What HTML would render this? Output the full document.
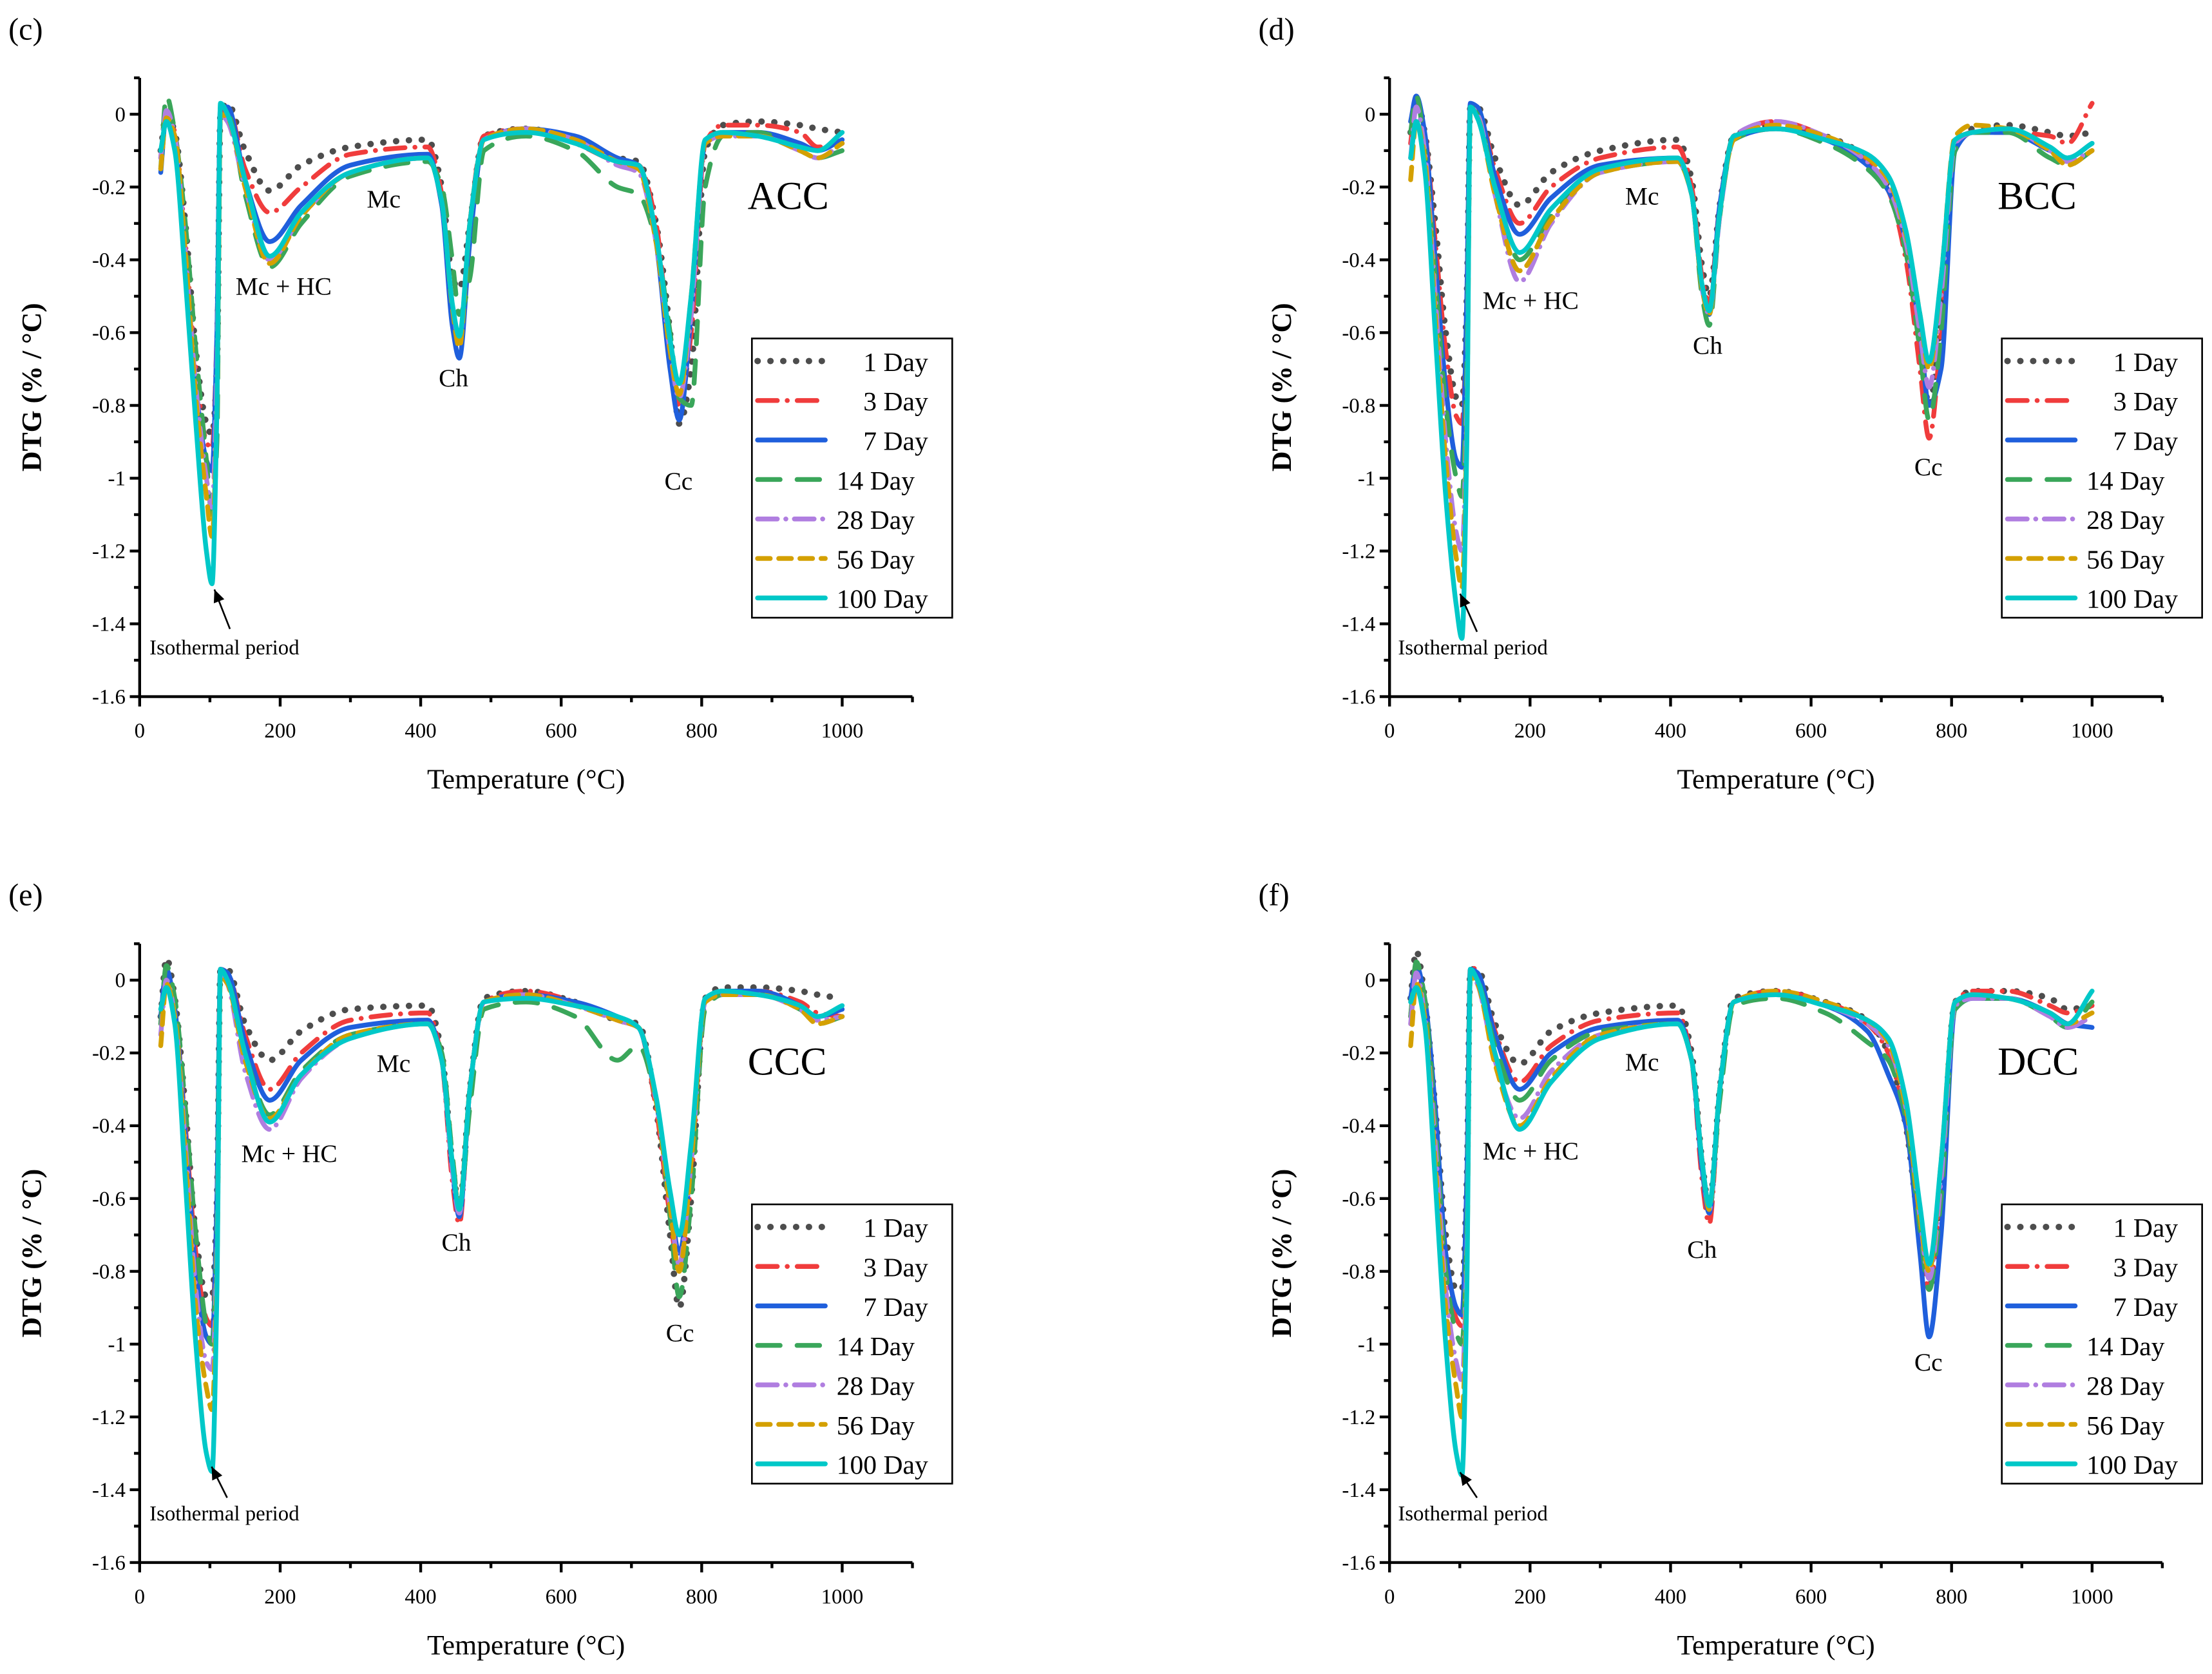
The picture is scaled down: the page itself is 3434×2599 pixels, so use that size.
<!DOCTYPE html>
<html><head><meta charset="utf-8"><style>
html,body{margin:0;padding:0;background:#fff;}
svg{display:block;font-family:"Liberation Serif",serif;}
</style></head>
<body>
<svg id="fig" xmlns="http://www.w3.org/2000/svg" width="3434" height="2599" viewBox="0 0 1568 1187" preserveAspectRatio="none"></svg>
<script>
const temps=[30,38,50,65,80,95,103,110,115,125,150,185,230,300,410,430,445,455,470,490,550,620,680,710,735,755,768,785,805,830,880,940,965,1000];
const seriesNames=["1 Day","3 Day","7 Day","14 Day","28 Day","56 Day","100 Day"];
const xTicks=[0,200,400,600,800,1000];
const yTicks=[0,-0.2,-0.4,-0.6,-0.8,-1,-1.2,-1.4,-1.6];
const yTickLabels=["0","-0.2","-0.4","-0.6","-0.8","-1","-1.2","-1.4","-1.6"];
const panelC=[
[-0.1,0.0,-0.05,-0.3,-0.65,-0.85,-0.88,-0.7,0.0,0.03,-0.1,-0.21,-0.14,-0.09,-0.07,-0.2,-0.45,-0.48,-0.3,-0.06,-0.04,-0.07,-0.12,-0.13,-0.3,-0.6,-0.85,-0.7,-0.1,-0.03,-0.02,-0.03,-0.04,-0.05],
[-0.12,0.01,-0.05,-0.35,-0.7,-0.9,-0.92,-0.6,0.0,0.02,-0.15,-0.27,-0.2,-0.11,-0.09,-0.22,-0.55,-0.62,-0.3,-0.06,-0.04,-0.08,-0.13,-0.14,-0.3,-0.65,-0.8,-0.6,-0.08,-0.03,-0.03,-0.05,-0.09,-0.08],
[-0.16,0.0,-0.08,-0.4,-0.75,-0.95,-0.98,-0.6,0.02,0.02,-0.18,-0.35,-0.25,-0.14,-0.11,-0.25,-0.58,-0.67,-0.35,-0.07,-0.04,-0.06,-0.12,-0.14,-0.35,-0.7,-0.84,-0.55,-0.08,-0.05,-0.05,-0.08,-0.1,-0.07],
[-0.15,0.05,-0.05,-0.3,-0.65,-0.95,-1.1,-0.9,0.0,0.0,-0.22,-0.42,-0.3,-0.17,-0.13,-0.2,-0.4,-0.55,-0.45,-0.1,-0.06,-0.1,-0.2,-0.22,-0.35,-0.6,-0.78,-0.8,-0.2,-0.06,-0.05,-0.1,-0.12,-0.1],
[-0.12,0.01,-0.06,-0.38,-0.75,-1.0,-1.08,-0.7,0.0,-0.02,-0.2,-0.4,-0.28,-0.16,-0.12,-0.24,-0.52,-0.62,-0.3,-0.07,-0.04,-0.07,-0.14,-0.16,-0.35,-0.65,-0.78,-0.55,-0.08,-0.06,-0.06,-0.1,-0.12,-0.08],
[-0.15,-0.01,-0.06,-0.38,-0.78,-1.05,-1.16,-0.8,0.0,-0.01,-0.2,-0.41,-0.28,-0.16,-0.12,-0.24,-0.53,-0.64,-0.3,-0.07,-0.04,-0.07,-0.13,-0.15,-0.35,-0.65,-0.77,-0.5,-0.08,-0.06,-0.06,-0.1,-0.12,-0.08],
[-0.1,-0.02,-0.1,-0.45,-0.85,-1.2,-1.29,-0.8,0.03,0.0,-0.18,-0.39,-0.27,-0.16,-0.12,-0.24,-0.52,-0.61,-0.3,-0.07,-0.05,-0.08,-0.13,-0.14,-0.33,-0.62,-0.74,-0.5,-0.07,-0.05,-0.06,-0.09,-0.1,-0.05]];
const panelD=[
[-0.05,0.04,-0.05,-0.3,-0.6,-0.78,-0.8,-0.5,0.02,0.02,-0.12,-0.25,-0.16,-0.1,-0.07,-0.18,-0.42,-0.5,-0.25,-0.06,-0.03,-0.06,-0.12,-0.2,-0.35,-0.62,-0.8,-0.55,-0.08,-0.04,-0.03,-0.05,-0.06,-0.05],
[-0.08,0.03,-0.05,-0.35,-0.65,-0.83,-0.85,-0.55,0.01,0.01,-0.15,-0.3,-0.2,-0.12,-0.09,-0.2,-0.45,-0.52,-0.25,-0.06,-0.02,-0.06,-0.13,-0.21,-0.4,-0.7,-0.89,-0.6,-0.08,-0.05,-0.05,-0.06,-0.08,0.03],
[-0.02,0.05,-0.05,-0.4,-0.75,-0.95,-0.97,-0.5,0.03,0.02,-0.17,-0.33,-0.23,-0.14,-0.12,-0.22,-0.48,-0.55,-0.25,-0.07,-0.04,-0.07,-0.14,-0.21,-0.35,-0.6,-0.8,-0.7,-0.1,-0.05,-0.05,-0.1,-0.12,-0.08],
[-0.05,0.05,-0.1,-0.45,-0.8,-1.0,-1.05,-0.7,0.02,0.0,-0.2,-0.4,-0.28,-0.16,-0.13,-0.22,-0.5,-0.58,-0.28,-0.07,-0.04,-0.08,-0.15,-0.22,-0.38,-0.65,-0.84,-0.6,-0.1,-0.05,-0.05,-0.12,-0.14,-0.1],
[-0.12,0.02,-0.1,-0.5,-0.9,-1.15,-1.2,-0.8,0.02,0.0,-0.22,-0.46,-0.3,-0.16,-0.13,-0.22,-0.48,-0.55,-0.28,-0.06,-0.02,-0.06,-0.13,-0.2,-0.35,-0.6,-0.75,-0.5,-0.08,-0.05,-0.04,-0.1,-0.13,-0.1],
[-0.18,-0.02,-0.12,-0.55,-0.95,-1.22,-1.3,-0.85,0.01,-0.01,-0.22,-0.43,-0.29,-0.16,-0.13,-0.22,-0.48,-0.55,-0.27,-0.07,-0.03,-0.06,-0.12,-0.18,-0.33,-0.55,-0.7,-0.45,-0.06,-0.03,-0.04,-0.1,-0.14,-0.1],
[-0.12,-0.02,-0.15,-0.6,-1.05,-1.35,-1.44,-0.9,0.02,-0.01,-0.2,-0.38,-0.26,-0.15,-0.12,-0.22,-0.47,-0.54,-0.27,-0.06,-0.04,-0.07,-0.11,-0.17,-0.32,-0.55,-0.68,-0.45,-0.07,-0.05,-0.04,-0.09,-0.12,-0.08]];
const panelE=[
[-0.1,0.06,-0.05,-0.35,-0.7,-0.87,-0.87,-0.6,0.03,0.03,-0.12,-0.22,-0.14,-0.08,-0.07,-0.2,-0.5,-0.62,-0.3,-0.05,-0.03,-0.06,-0.11,-0.12,-0.35,-0.7,-0.9,-0.6,-0.05,-0.02,-0.02,-0.03,-0.04,-0.05],
[-0.12,0.02,-0.08,-0.4,-0.75,-0.93,-0.95,-0.6,0.03,0.02,-0.15,-0.3,-0.2,-0.11,-0.09,-0.22,-0.55,-0.67,-0.3,-0.06,-0.03,-0.06,-0.11,-0.13,-0.35,-0.65,-0.8,-0.55,-0.06,-0.03,-0.03,-0.06,-0.09,-0.1],
[-0.1,0.03,-0.08,-0.42,-0.8,-0.98,-1.0,-0.6,0.03,0.02,-0.17,-0.33,-0.22,-0.13,-0.11,-0.22,-0.52,-0.65,-0.3,-0.06,-0.04,-0.06,-0.1,-0.13,-0.33,-0.6,-0.75,-0.5,-0.06,-0.03,-0.03,-0.07,-0.1,-0.08],
[-0.12,0.04,-0.05,-0.35,-0.7,-0.95,-1.0,-0.7,0.02,0.0,-0.2,-0.37,-0.25,-0.15,-0.12,-0.2,-0.48,-0.62,-0.35,-0.08,-0.06,-0.1,-0.22,-0.18,-0.33,-0.65,-0.87,-0.6,-0.08,-0.04,-0.04,-0.08,-0.12,-0.1],
[-0.15,0.0,-0.1,-0.45,-0.85,-1.05,-1.07,-0.75,0.02,-0.01,-0.25,-0.41,-0.27,-0.16,-0.12,-0.22,-0.52,-0.64,-0.3,-0.06,-0.04,-0.07,-0.11,-0.13,-0.33,-0.62,-0.78,-0.5,-0.06,-0.04,-0.04,-0.08,-0.11,-0.1],
[-0.18,-0.01,-0.1,-0.48,-0.9,-1.12,-1.18,-0.8,0.01,-0.01,-0.22,-0.38,-0.26,-0.15,-0.12,-0.22,-0.5,-0.62,-0.3,-0.06,-0.04,-0.07,-0.11,-0.13,-0.33,-0.62,-0.8,-0.5,-0.06,-0.04,-0.04,-0.08,-0.12,-0.1],
[-0.08,-0.02,-0.12,-0.55,-1.0,-1.3,-1.35,-0.85,0.03,0.0,-0.2,-0.39,-0.26,-0.16,-0.12,-0.22,-0.5,-0.63,-0.3,-0.06,-0.05,-0.07,-0.1,-0.13,-0.32,-0.58,-0.7,-0.45,-0.05,-0.03,-0.04,-0.07,-0.1,-0.07]];
const panelF=[
[-0.05,0.08,-0.05,-0.35,-0.7,-0.85,-0.85,-0.55,0.03,0.03,-0.12,-0.23,-0.14,-0.09,-0.07,-0.2,-0.5,-0.62,-0.3,-0.05,-0.03,-0.06,-0.11,-0.2,-0.4,-0.7,-0.85,-0.55,-0.06,-0.03,-0.03,-0.05,-0.08,-0.07],
[-0.1,0.04,-0.08,-0.4,-0.75,-0.93,-0.95,-0.6,0.04,0.02,-0.14,-0.28,-0.18,-0.11,-0.09,-0.22,-0.55,-0.67,-0.3,-0.06,-0.03,-0.06,-0.12,-0.2,-0.4,-0.7,-0.85,-0.55,-0.06,-0.03,-0.03,-0.07,-0.09,-0.07],
[-0.05,0.04,-0.05,-0.35,-0.75,-0.9,-0.92,-0.55,0.03,0.02,-0.15,-0.3,-0.2,-0.13,-0.11,-0.22,-0.52,-0.64,-0.3,-0.06,-0.04,-0.07,-0.14,-0.26,-0.4,-0.75,-0.98,-0.7,-0.08,-0.05,-0.05,-0.09,-0.12,-0.13],
[-0.1,0.05,-0.05,-0.4,-0.8,-0.97,-1.0,-0.7,0.02,0.0,-0.18,-0.33,-0.22,-0.14,-0.12,-0.22,-0.5,-0.62,-0.33,-0.07,-0.05,-0.09,-0.17,-0.22,-0.38,-0.68,-0.85,-0.6,-0.08,-0.05,-0.05,-0.1,-0.13,-0.06],
[-0.12,0.02,-0.1,-0.45,-0.85,-1.05,-1.1,-0.75,0.02,-0.01,-0.22,-0.38,-0.25,-0.15,-0.12,-0.22,-0.5,-0.63,-0.3,-0.06,-0.04,-0.07,-0.12,-0.18,-0.35,-0.65,-0.82,-0.55,-0.07,-0.05,-0.05,-0.1,-0.13,-0.1],
[-0.18,-0.01,-0.1,-0.5,-0.9,-1.12,-1.2,-0.8,0.01,-0.01,-0.23,-0.4,-0.27,-0.15,-0.12,-0.22,-0.5,-0.63,-0.3,-0.06,-0.03,-0.06,-0.11,-0.17,-0.35,-0.65,-0.8,-0.5,-0.06,-0.04,-0.05,-0.09,-0.12,-0.09],
[-0.06,-0.02,-0.12,-0.55,-1.0,-1.3,-1.36,-0.85,0.03,0.0,-0.2,-0.41,-0.28,-0.16,-0.12,-0.22,-0.5,-0.62,-0.3,-0.06,-0.04,-0.07,-0.11,-0.16,-0.33,-0.62,-0.78,-0.5,-0.06,-0.04,-0.05,-0.09,-0.12,-0.03]];

const colors=["#4d4d4d","#f03c3c","#1f5fdc","#3aa65a","#b07ee0","#d4a000","#00c8c8"];
const dashes=["0.1 9","14 7 0.1 7","","16 12","14 6 0.1 6","9 6",""];
const NS="http://www.w3.org/2000/svg";
const svg=document.getElementById('fig');
function mk(tag,attrs,parent){const e=document.createElementNS(NS,tag);for(const k in attrs)e.setAttribute(k,attrs[k]);(parent||svg).appendChild(e);return e;}
function txt(str,attrs,parent){const e=mk('text',attrs,parent);e.textContent=str;return e;}
function mono(xs,ys){const n=xs.length,d=[],m=[];for(let i=0;i<n-1;i++)d.push((ys[i+1]-ys[i])/(xs[i+1]-xs[i]));m[0]=d[0];m[n-1]=d[n-2];for(let i=1;i<n-1;i++){if(d[i-1]*d[i]<=0)m[i]=0;else{const w1=2*(xs[i+1]-xs[i])+(xs[i]-xs[i-1]),w2=(xs[i+1]-xs[i])+2*(xs[i]-xs[i-1]);m[i]=(w1+w2)/(w1/d[i-1]+w2/d[i]);}}
let p='M'+xs[0].toFixed(2)+','+ys[0].toFixed(2);for(let i=0;i<n-1;i++){const h=xs[i+1]-xs[i];p+=' C'+(xs[i]+h/3).toFixed(2)+','+(ys[i]+m[i]*h/3).toFixed(2)+' '+(xs[i+1]-h/3).toFixed(2)+','+(ys[i+1]-m[i+1]*h/3).toFixed(2)+' '+xs[i+1].toFixed(2)+','+ys[i+1].toFixed(2);}return p;}

const panels=[
{id:'c',ox:0,oy:0,data:panelC,name:'ACC',ann:{mc:[260,147],mchc:[167,209],ch:[311,274],cc:[471,347],iso:[106,464],arrow:[163,446,152,418]}},
{id:'d',ox:886,oy:0,data:panelD,name:'BCC',ann:{mc:[1152,145],mchc:[1051,219],ch:[1200,251],cc:[1357,337],iso:[991,464],arrow:[1047,448,1035,421]}},
{id:'e',ox:0,oy:614,data:panelE,name:'CCC',ann:{mc:[267,760],mchc:[171,824],ch:[313,887],cc:[472,951],iso:[106,1078],arrow:[161,1062,150,1040]}},
{id:'f',ox:886,oy:614,data:panelF,name:'DCC',ann:{mc:[1152,759],mchc:[1051,822],ch:[1196,892],cc:[1357,972],iso:[991,1078],arrow:[1047,1062,1035,1044]}}];

const defs=mk('defs',{});
const mkr=mk('marker',{id:'arr',markerWidth:'10',markerHeight:'10',refX:'9',refY:'5',orient:'auto',markerUnits:'userSpaceOnUse'},defs);
mk('path',{d:'M0,1 L9,5 L0,9 Z',fill:'#000'},mkr);

panels.forEach(P=>{
  const x0=99+P.ox, y0=81+P.oy, kx=0.498, ky=258.1;
  const X=t=>x0+t*kx, Y=v=>y0-v*ky;
  const g=mk('g',{});
  
  
  const lab=txt('('+P.id+')',{x:6+P.ox,y:28+P.oy,'font-size':'22'},g);
  
  
  P.data.forEach((vals,si)=>{
    const xs=temps.map(X), ys=vals.map(Y);
    const a={d:mono(xs,ys),fill:'none',stroke:colors[si],'stroke-width':'3.4','stroke-linecap':'round','stroke-linejoin':'round'};
    if(dashes[si])a['stroke-dasharray']=dashes[si];
    if(si===0)a['stroke-width']='4.5';
    const path=mk('path',a,g);
    
    
  });
  const ax=mk('g',{stroke:'#000','stroke-width':'2'},g);
  
  
  mk('line',{x1:x0,y1:Y(0.1),x2:x0,y2:Y(-1.6)+1},ax);
  mk('line',{x1:x0-1,y1:Y(-1.6),x2:X(1100),y2:Y(-1.6)},ax);
  for(let t=0;t<=1100;t+=100){const maj=t%200===0;mk('line',{x1:X(t),y1:Y(-1.6),x2:X(t),y2:Y(-1.6)+(maj?7:4)},ax);}
  for(let k=-16;k<=1;k++){const v=k/10;const maj=k%2===0;mk('line',{x1:x0,y1:Y(v),x2:x0-(maj?7:4),y2:Y(v)},ax);}
  xTicks.forEach(t=>{const e=txt(String(t),{x:X(t),y:Y(-1.6)+29,'font-size':'15','text-anchor':'middle'},g);
    
    });
  yTicks.forEach((v,i)=>{const e=txt(yTickLabels[i],{x:x0-10,y:Y(v)+5,'font-size':'15','text-anchor':'end'},g);
    
    });
  const xt=txt('Temperature (°C)',{x:X(550),y:Y(-1.6)+65,'font-size':'20','text-anchor':'middle'},g);
  
  
  const yc=(Y(0.1)+Y(-1.6))/2;
  const yt=txt('DTG (% / °C)',{x:29+P.ox,y:yc,'font-size':'20','font-weight':'bold','text-anchor':'middle',transform:'rotate(-90 '+(29+P.ox)+' '+yc+')'},g);
  
  
  const A=P.ann;
  const nm=txt(P.name,{x:x0+431,y:Y(-0.26),'font-size':'28'},g);
  
  
  [['Mc',A.mc,'mc-label'],['Mc + HC',A.mchc,'mc-hc-label'],['Ch',A.ch,'ch-label'],['Cc',A.cc,'cc-label']].forEach(q=>{
    const e=txt(q[0],{x:q[1][0],y:q[1][1],'font-size':'18'},g);
    
    });
  const iso=txt('Isothermal period',{x:A.iso[0],y:A.iso[1],'font-size':'15'},g);
  
  
  const ar=mk('line',{x1:A.arrow[0],y1:A.arrow[1],x2:A.arrow[2],y2:A.arrow[3],stroke:'#000','stroke-width':'1.2','marker-end':'url(#arr)'},g);
  
  
  const lx=533+P.ox, ly=240+P.oy;
  const lg=mk('g',{},g);
  
  
  mk('rect',{x:lx,y:ly,width:142,height:198,fill:'#fff',stroke:'#000','stroke-width':'1.2'},lg);
  seriesNames.forEach((s,si)=>{
    const cy=ly+16+si*28;
    const a={x1:lx+4,y1:cy,x2:lx+52,y2:cy,stroke:colors[si],'stroke-width':si===0?'4.5':'3.4','stroke-linecap':'round'};
    if(dashes[si])a['stroke-dasharray']=dashes[si];
    const ln=mk('line',a,lg);
    
    
    const t=txt(s,{x:lx+(s.length<=5?79:60),y:cy+7,'font-size':'19'},lg);
    
    
  });
});
</script>
</body></html>
